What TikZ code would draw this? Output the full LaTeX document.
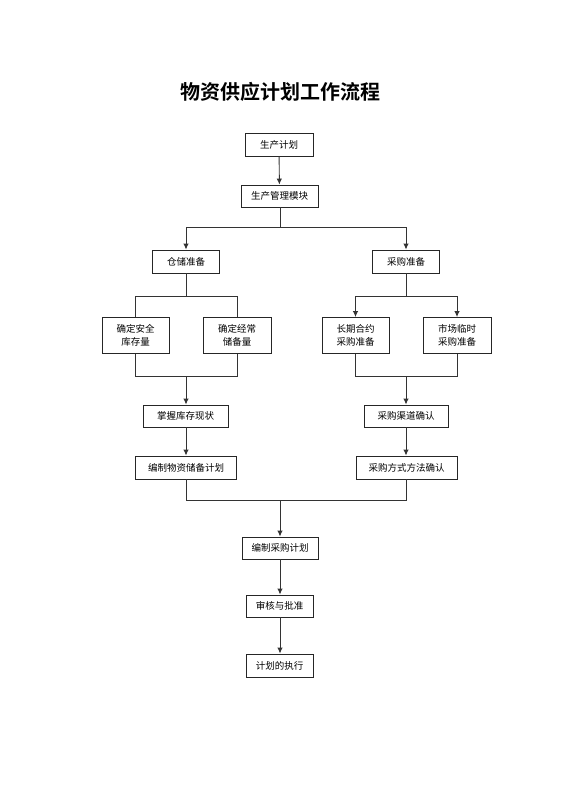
\documentclass[tikz,border=0pt]{standalone}
\usepackage{fontspec}
\newfontfamily\cjk{Noto Sans CJK SC}
\newfontfamily\cjkb{Noto Sans CJK SC Bold}
\usetikzlibrary{arrows.meta}
\tikzset{
  box/.style={draw=black!85, line width=0.9pt, fill=white, inner sep=0pt, align=center,
    font=\cjk\fontsize{9.5}{12.5}\selectfont, text=black},
  conn/.style={draw=black!80, line width=0.9pt},
  arr/.style={conn, -{Latex[length=6pt,width=5.5pt]}},
}
\begin{document}
\begin{tikzpicture}[x=1pt,y=-1pt]
\useasboundingbox (0,0) rectangle (560,792);
\node[font=\cjkb\fontsize{20}{24}\selectfont] (title) at (280,92) {物资供应计划工作流程};
% boxes
\node[box, minimum width=68pt, minimum height=23pt] (p1) at (279,144.5) {生产计划};
\node[box, minimum width=77pt, minimum height=22pt] (p2) at (279.5,196) {生产管理模块};
\node[box, minimum width=67pt, minimum height=23pt] (c1) at (186,261.5) {仓储准备};
\node[box, minimum width=67pt, minimum height=23pt] (c2) at (406,261.5) {采购准备};
\node[box, minimum width=67pt, minimum height=36pt] (l1) at (135.5,335.5) {确定安全\\库存量};
\node[box, minimum width=68pt, minimum height=36pt] (l2) at (237,335.5) {确定经常\\储备量};
\node[box, minimum width=67pt, minimum height=36pt] (r1) at (355.5,335.5) {长期合约\\采购准备};
\node[box, minimum width=68pt, minimum height=36pt] (r2) at (457,335.5) {市场临时\\采购准备};
\node[box, minimum width=85pt, minimum height=22pt] (l3) at (185.5,416) {掌握库存现状};
\node[box, minimum width=101pt, minimum height=23pt] (l4) at (186,467.5) {编制物资储备计划};
\node[box, minimum width=84pt, minimum height=22pt] (r3) at (406,416) {采购渠道确认};
\node[box, minimum width=101pt, minimum height=23pt] (r4) at (406.5,467.5) {采购方式方法确认};
\node[box, minimum width=76pt, minimum height=22pt] (b1) at (280,548) {编制采购计划};
\node[box, minimum width=67pt, minimum height=22pt] (b2) at (279.5,606) {审核与批准};
\node[box, minimum width=67pt, minimum height=23pt] (b3) at (279.5,665.5) {计划的执行};
% junctions
\coordinate (j1) at (280,227);
\coordinate (jl) at (186,296);
\coordinate (jr) at (406,296);
\coordinate (kl) at (186,376);
\coordinate (kr) at (406,376);
\coordinate (m) at (280,500);
% connectors
\draw[arr] (p1) -- (p2);
\draw[conn] (p2.south -| j1) -- (j1);
\draw[arr] (j1) -| (c1.north);
\draw[arr] (j1) -| (c2.north);
\draw[conn] (c1.south) -- (jl);
\draw[conn] (jl) -| (l1.north);
\draw[conn] (jl) -| (l2.north);
\draw[conn] (c2.south) -- (jr);
\draw[arr] (jr) -| (r1.north);
\draw[arr] (jr) -| (r2.north);
\draw[conn] (l1.south) |- (kl);
\draw[conn] (l2.south) |- (kl);
\draw[arr] (kl) -- (l3.north -| kl);
\draw[conn] (r1.south) |- (kr);
\draw[conn] (r2.south) |- (kr);
\draw[arr] (kr) -- (r3.north -| kr);
\draw[arr] (l3.south -| kl) -- (l4.north -| kl);
\draw[arr] (r3.south -| kr) -- (r4.north -| kr);
\draw[conn] (l4.south -| kl) |- (m);
\draw[conn] (r4.south -| kr) |- (m);
\draw[arr] (m) -- (b1.north -| m);
\draw[arr] (b1.south -| m) -- (b2.north -| m);
\draw[arr] (b2.south -| m) -- (b3.north -| m);
\end{tikzpicture}
\end{document}
